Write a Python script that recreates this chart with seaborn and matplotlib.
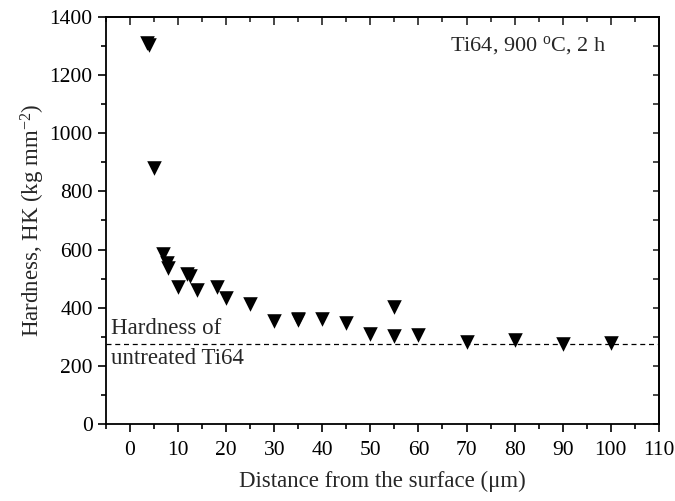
import matplotlib
matplotlib.use("Agg")
import matplotlib.pyplot as plt
from matplotlib.ticker import MultipleLocator
import seaborn as sns
import pandas as pd

distance = [4, 3.6, 5, 6.9, 7.7, 8, 9.9, 11.9, 12.4, 13.9, 18, 20, 25, 30, 35, 35, 40, 45, 50, 55, 55, 60, 70, 80, 90, 100]
hardness = [1305, 1312, 880, 585, 553, 535, 472, 516, 508, 461, 470, 432, 413, 355, 358, 362, 360, 346, 310, 401, 303, 306, 281, 289, 275, 278]
untreated_hardness = 274

sns.set_style("ticks")
plt.rcParams['font.family'] = ['Liberation Serif', 'DejaVu Serif']
plt.rcParams['mathtext.fontset'] = 'custom'
plt.rcParams['mathtext.rm'] = 'Liberation Serif'
plt.rcParams['mathtext.it'] = 'Liberation Serif:italic'

df = pd.DataFrame({"Distance": distance, "Hardness": hardness})

fig = plt.figure(figsize=(6.75, 5.01), dpi=100)
ax = fig.add_axes([0.157, 0.1537, 0.819, 0.8125])

sns.scatterplot(data=df, x="Distance", y="Hardness", marker="v", color="black",
                s=110, edgecolor="black", linewidth=0, ax=ax, legend=False, zorder=3)

ax.axhline(untreated_hardness, color="black", linestyle=(0, (4, 3)), linewidth=0.9)

ax.set_xlim(-5, 110)
ax.set_ylim(0, 1400)
ax.xaxis.set_major_locator(MultipleLocator(10))
ax.xaxis.set_minor_locator(MultipleLocator(5))
ax.yaxis.set_major_locator(MultipleLocator(200))
ax.yaxis.set_minor_locator(MultipleLocator(100))

for s in ax.spines.values():
    s.set_linewidth(1.3)
    s.set_color("black")

ax.tick_params(axis="both", which="major", length=6, width=1.2, labelsize=15.5, color="black", labelcolor="black")
ax.tick_params(axis="both", which="minor", length=3.5, width=1.2, color="black")
ax.tick_params(axis="x", which="both", pad=6)

# Inward ticks on top and right
axt = ax.secondary_xaxis('top')
axt.xaxis.set_major_locator(MultipleLocator(10))
axt.xaxis.set_minor_locator(MultipleLocator(5))
axt.tick_params(axis="x", which="major", direction="in", length=6, width=1.2, labeltop=False)
axt.tick_params(axis="x", which="minor", direction="in", length=3.5, width=1.2)
axt.spines['top'].set_linewidth(1.3)
axr = ax.secondary_yaxis('right')
axr.yaxis.set_major_locator(MultipleLocator(100))
axr.tick_params(axis="y", which="major", direction="in", length=4, width=1.2, labelright=False)
axr.spines['right'].set_linewidth(1.3)

ax.set_xlabel("Distance from the surface (\u03bcm)", fontsize=16.5, labelpad=8)
ax.set_ylabel("Hardness, HK (kg mm$^{-2}$)", fontsize=16.5, labelpad=2)

ax.text(0.009, untreated_hardness + 20, "Hardness of", fontsize=16.5, ha="left", va="bottom",
        transform=ax.get_yaxis_transform())
ax.text(0.009, untreated_hardness - 14, "untreated Ti64", fontsize=16.5, ha="left", va="top",
        transform=ax.get_yaxis_transform())
ax.text(0.622, 0.93, "Ti64, 900 $^{\\mathregular{o}}$C, 2 h", fontsize=16, ha="left", va="center",
        transform=ax.transAxes)

fig.savefig("out.png", dpi=100)
